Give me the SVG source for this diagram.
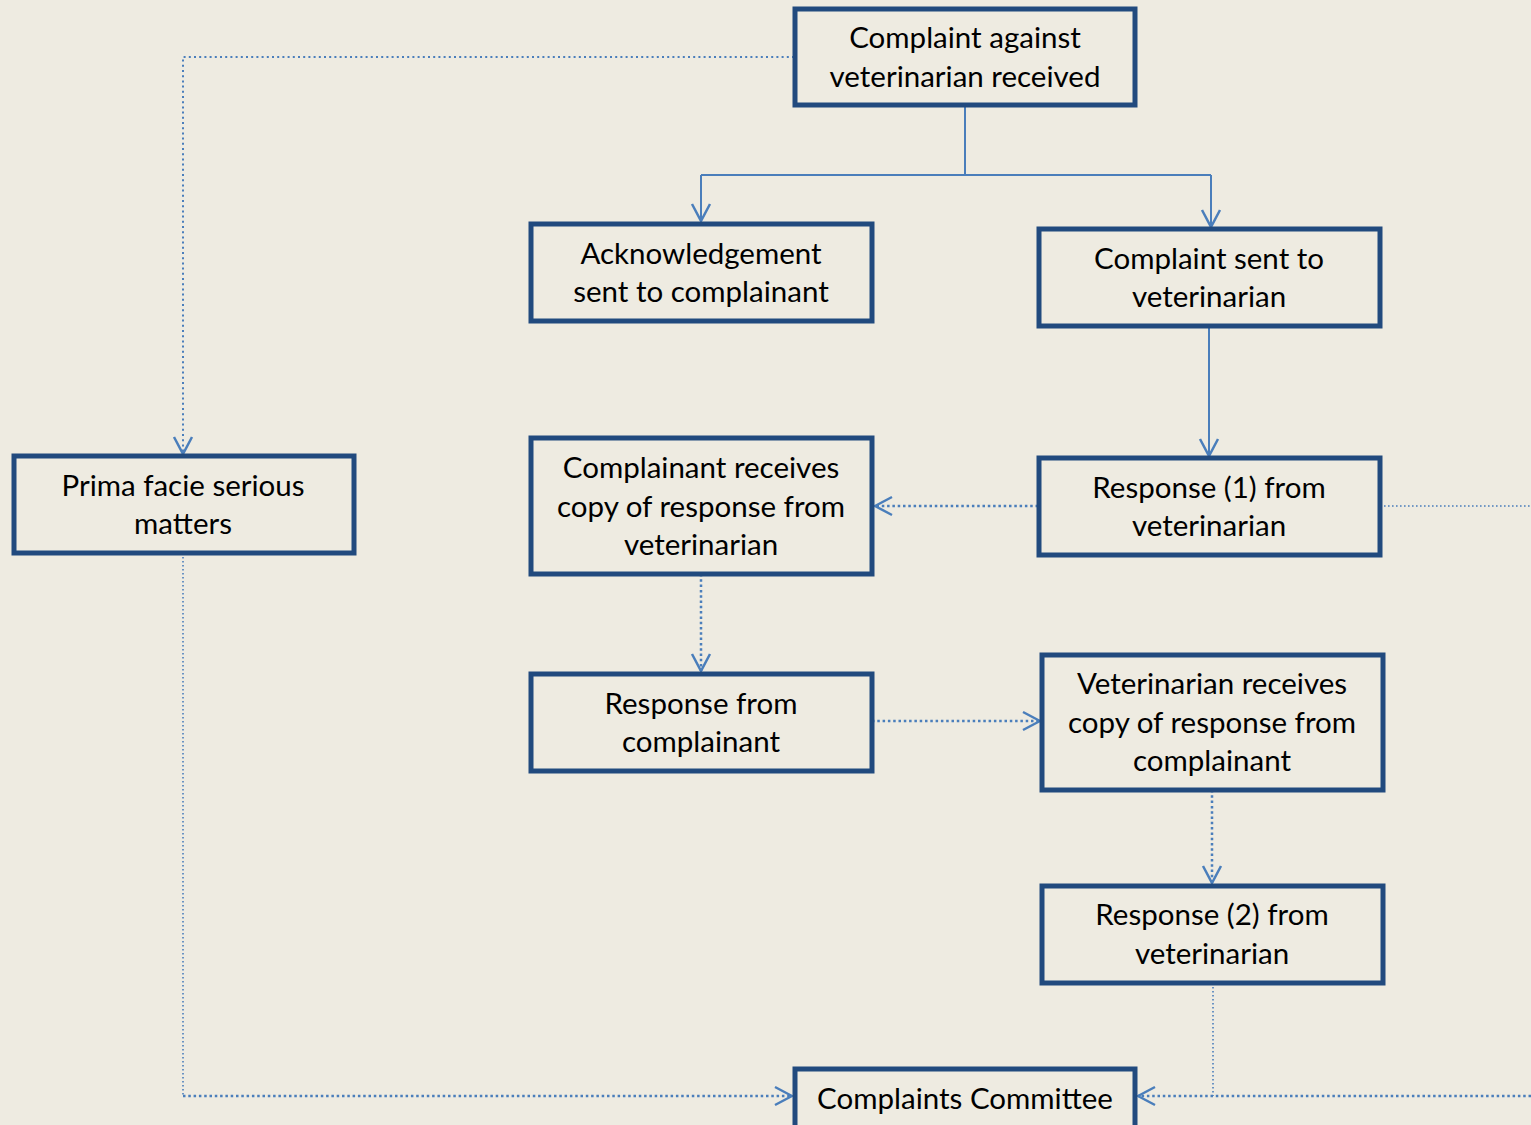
<svg xmlns="http://www.w3.org/2000/svg" width="1531" height="1125" viewBox="0 0 1531 1125">
<defs>
<style>
.box{fill:#EEEBE1;stroke:#214A7E;stroke-width:5;}
.t{font-family:Lato,"Open Sans","Liberation Sans",sans-serif;font-size:29.5px;fill:#000;text-anchor:middle;}
.solid{fill:none;stroke:#4A7EBB;stroke-width:2;}
.dot{fill:none;stroke:#4A7EBB;stroke-width:2.5;stroke-dasharray:2.5 2.8;}
.dotmid{fill:none;stroke:#4A7EBB;stroke-width:2;stroke-dasharray:2 3.2;}
.dotthin{fill:none;stroke:#4A7EBB;stroke-width:1.6;stroke-dasharray:1.6 2.4;}
</style>
<marker id="arr" viewBox="-19 -11 21 22" refX="0" refY="0" markerWidth="21" markerHeight="22" markerUnits="userSpaceOnUse" orient="auto">
<path d="M-17,-9 L0,0 L-17,9" fill="none" stroke="#4A7EBB" stroke-width="2.5"/>
</marker>
</defs>
<rect x="0" y="0" width="1531" height="1125" fill="#EEEBE1"/>
<g id="connectors">
<path class="solid" d="M965,106 V175 M701,175 H1211"/>
<path class="solid" d="M701,175 V221" marker-end="url(#arr)"/>
<path class="solid" d="M1211,175 V227" marker-end="url(#arr)"/>
<path class="solid" d="M1209,326 V456" marker-end="url(#arr)"/>
<path class="dot" d="M1038,506 H875" marker-end="url(#arr)"/>
<path class="dotthin" d="M1380,506 H1531"/>
<path class="dot" d="M701,574 V671" marker-end="url(#arr)"/>
<path class="dot" d="M872,721 H1040" marker-end="url(#arr)"/>
<path class="dot" d="M1212,790 V883" marker-end="url(#arr)"/>
<path class="dotthin" d="M1213,983 V1096"/>
<path class="dot" d="M1531,1096 H1138" marker-end="url(#arr)"/>
<path class="dotmid" d="M794,57 H183 V454" marker-end="url(#arr)"/>
<path class="dotthin" d="M183,553 V1096"/>
<path class="dot" d="M183,1096 H792" marker-end="url(#arr)"/>
</g>
<g id="n-received">
<rect class="box" x="795" y="9" width="340" height="96"/>
<text class="t" x="965" y="48">Complaint against</text>
<text class="t" x="965" y="87">veterinarian received</text>
</g>
<g id="n-ack">
<rect class="box" x="531" y="224" width="341" height="97"/>
<text class="t" x="701" y="264">Acknowledgement</text>
<text class="t" x="701" y="302">sent to complainant</text>
</g>
<g id="n-sent">
<rect class="box" x="1039" y="229" width="341" height="97"/>
<text class="t" x="1209" y="269">Complaint sent to</text>
<text class="t" x="1209" y="307">veterinarian</text>
</g>
<g id="n-prima">
<rect class="box" x="14" y="456" width="340" height="97"/>
<text class="t" x="183" y="496">Prima facie serious</text>
<text class="t" x="183" y="534">matters</text>
</g>
<g id="n-compl-receives">
<rect class="box" x="531" y="438" width="341" height="136"/>
<text class="t" x="701" y="478">Complainant receives</text>
<text class="t" x="701" y="517">copy of response from</text>
<text class="t" x="701" y="555">veterinarian</text>
</g>
<g id="n-resp1">
<rect class="box" x="1039" y="458" width="341" height="97"/>
<text class="t" x="1209" y="498">Response (1) from</text>
<text class="t" x="1209" y="536">veterinarian</text>
</g>
<g id="n-resp-compl">
<rect class="box" x="531" y="674" width="341" height="97"/>
<text class="t" x="701" y="714">Response from</text>
<text class="t" x="701" y="752">complainant</text>
</g>
<g id="n-vet-receives">
<rect class="box" x="1042" y="655" width="341" height="135"/>
<text class="t" x="1212" y="694">Veterinarian receives</text>
<text class="t" x="1212" y="733">copy of response from</text>
<text class="t" x="1212" y="771">complainant</text>
</g>
<g id="n-resp2">
<rect class="box" x="1042" y="886" width="341" height="97"/>
<text class="t" x="1212" y="925">Response (2) from</text>
<text class="t" x="1212" y="964">veterinarian</text>
</g>
<g id="n-committee">
<rect class="box" x="795" y="1069" width="340" height="80"/>
<text class="t" x="965" y="1109">Complaints Committee</text>
</g>
</svg>
